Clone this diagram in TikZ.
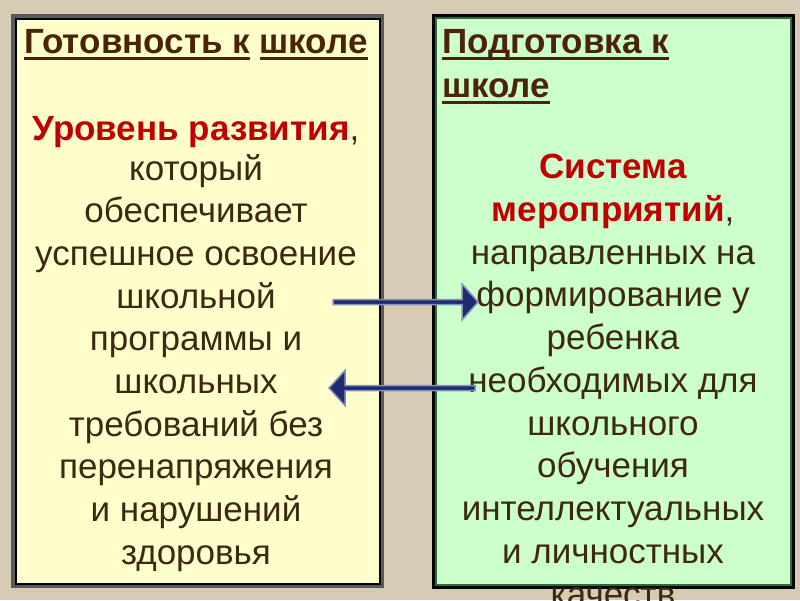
\documentclass[tikz,border=0pt]{standalone}
\usepackage{fontspec}
\setmainfont{Liberation Sans}
\usetikzlibrary{calc}
\definecolor{bgtan}{HTML}{D8CBB4}
\definecolor{lyellow}{HTML}{FFFFCC}
\definecolor{lgreen}{HTML}{CCFFCC}
\definecolor{txtbrown}{HTML}{3D2812}
\definecolor{ttlbrown}{HTML}{4A2308}
\definecolor{redtxt}{HTML}{C00000}
\definecolor{arrnavy}{HTML}{1F2A70}
\definecolor{arrlight}{HTML}{8590BD}
\definecolor{grnline}{HTML}{2E6A40}
\newcommand\myul[1]{\setbox0\hbox{#1}\rlap{\rule[-6.5pt]{\wd0}{2.6pt}}\box0\relax}
\begin{document}
\begin{tikzpicture}[x=1pt,y=-1pt,
  body/.style={anchor=base, inner sep=0pt, text=txtbrown, font=\fontsize{35}{42}\selectfont},
  ttl/.style={anchor=base west, inner sep=0pt, text=ttlbrown, font=\fontsize{35}{42}\selectfont\bfseries},
  arrowbody/.style={fill=arrnavy, draw=arrlight, line width=1.5pt, line join=miter}]
\fill[bgtan] (0,0) rectangle (800,600);
\useasboundingbox (0,0) rectangle (800,600);
% left box
\draw[line width=5pt, draw=black!65, fill=lyellow] (13.5,16.5) rectangle (381.5,585.5);
\draw[line width=2pt, black] (15.5,18.5) rectangle (379.5,583.5);
% right box
\draw[line width=3pt, black, fill=lgreen] (433.5,15.5) rectangle (793.5,587.5);
\draw[line width=1.8pt, grnline] (436.3,18.3) rectangle (790.7,584.7);
% left text
\node[body, text=ttlbrown, font=\fontsize{35}{42}\selectfont\bfseries] (lt) at (196,53) {\myul{Готовность к} \myul{школе}};
\node[body] (l0) at (196,140) {{\color{redtxt}\bfseries Уровень развития},};
\foreach \t [count=\i] in {который, обеспечивает, успешное освоение, школьной, программы и, школьных, требований без, перенапряжения, и нарушений, здоровья}
  \node[body] (l\i) at (196,{180+42.7*(\i-1)}) {\t};
% right text
\node[ttl] (rt1) at (442,53) {\myul{Подготовка к}};
\node[ttl] (rt2) at (442,97) {\myul{школе}};
\node[body] (r0) at (613,178) {{\color{redtxt}\bfseries Система}};
\node[body] (r00) at (613,221) {{\color{redtxt}\bfseries мероприятий},};
\foreach \t [count=\i] in {направленных на, формирование у, ребенка, необходимых для, школьного, обучения, интеллектуальных, и личностных, качеств}
  \node[body] (r\i) at (613,{264+42.75*(\i-1)}) {\t};
% arrows
\coordinate (a1s) at (333,302);
\coordinate (a1e) at (478,302);
\coordinate (a2s) at (475,388);
\coordinate (a2e) at (329,388);
\draw[arrowbody] (a1s) ++(0,-2.5) -- ++(129,0) -- ++(0,-15.5) -- (a1e) -- ++(-16,18) -- ++(0,-15.5) -- ++(-129,0) -- cycle;
\draw[arrowbody] (a2s) ++(0,-2.5) -- ++(-130,0) -- ++(0,-15) -- (a2e) -- ++(16,17.5) -- ++(0,-15) -- ++(130,0) -- cycle;
\end{tikzpicture}
\end{document}
